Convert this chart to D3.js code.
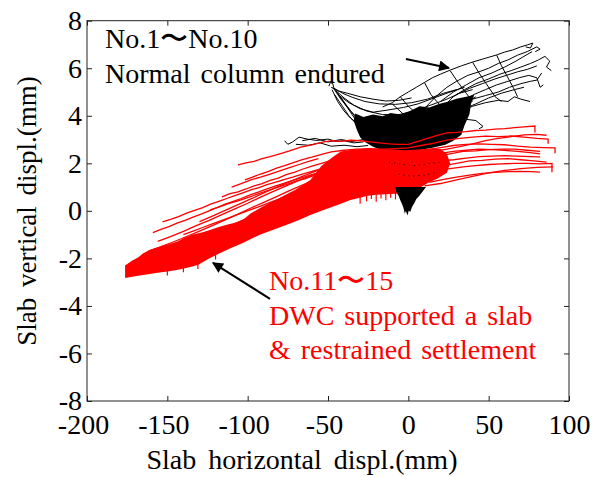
<!DOCTYPE html>
<html>
<head>
<meta charset="utf-8">
<script src="https://cdn.jsdelivr.net/npm/d3@7"></script>
<style>
  body { margin: 0; background: #fff; }
  text { font-family: "Liberation Serif", "Times New Roman", serif; }
</style>
</head>
<body>
<div class="graph"></div>
<script>
// axis ticks
const xTicks = [-200, -150, -100, -50, 0, 50, 100];
const yTicks = [-8, -6, -4, -2, 0, 2, 4, 6, 8];

// No.1~No.10 (normal column) traces
const blackTraces = [
  // left arm and the bowl
  [[-49.5,5.25],[-48.5,5.4],[-47,5.35],[-46.5,5.2],[-45,5.05],[-42,4.75],[-39,4.45],[-36,4.15],[-33,3.85],[-30,3.6],[-26,3.35],[-21,3.1],[-15,2.9],[-8,2.75],[0,2.65]],
  [[-47,5.2],[-42,4.7],[-36,4.2],[-30,3.8],[-22,3.55],[-12,3.45],[0,3.5],[12,3.7],[24,4.05],[34,4.45],[42,4.8]],
  [[-45,5.05],[-40,4.75],[-34,4.45],[-26,4.2],[-16,4.05],[-6,4.05],[4,4.2],[14,4.45],[24,4.7],[32,4.95],[40,5.1]],
  [[-46,5.15],[-41,4.95],[-35,4.78],[-27,4.6],[-18,4.5],[-8,4.48],[2,4.55],[12,4.7],[22,4.95],[30,5.1]],
  [[-44,4.95],[-38,4.4],[-33,3.95],[-28,3.6],[-22,3.3],[-14,3.1],[-4,3.0],[8,3.1],[18,3.35],[28,3.7],[38,4.2]],
  [[-43,4.85],[-37,4.55],[-30,4.3],[-22,4.15],[-12,4.25],[-3,4.35],[6,4.5],[16,4.75],[26,5.0],[35,5.2]],
  [[-47.5,5.1],[-44,4.6],[-40,4.2],[-36,3.9],[-31,3.65],[-25,3.5],[-18,3.4]],
  [[-46,4.9],[-41,4.4],[-37,4.0],[-33,3.7],[-29,3.45]],
  [[-48,5.2],[-44,5.05],[-38,4.95],[-30,4.8],[-22,4.7],[-14,4.62],[-6,4.65],[2,4.75]],
  // trail to the left along y ~ 3
  [[-77,2.95],[-75,2.8],[-72,2.9],[-68,3.1],[-63,3.02],[-57,2.96],[-50,3.02],[-45,2.92],[-40,2.95],[-34,2.86],[-28,2.9]],
  [[-70,2.8],[-62,2.76],[-55,2.86],[-48,2.72],[-40,2.76],[-32,2.7],[-25,2.75]],
  [[-66,2.95],[-58,3.05],[-50,2.9],[-42,3.0],[-35,2.92],[-28,3.0]],
  // fan to the upper right
  [[-16,4.37],[-10,4.55],[-5,4.8],[0,5.0],[5,5.2],[10,5.4],[15,5.6],[20,5.75],[26,5.92],[33,6.1],[40,6.26],[47,6.4],[55,6.56],[60,6.68],[65,6.77],[70,6.9],[74,6.98],[77.5,7.06],[76,6.85],[73,6.9]],
  [[-5,3.4],[3,3.8],[10,4.3],[17,4.8],[24,5.2],[30,5.45],[37,5.7],[44,5.85],[50,6.0],[56,6.2],[62,6.35],[68,6.55],[74,6.7],[80,6.9],[82,6.8],[79,6.7]],
  [[0,3.1],[8,3.5],[15,3.9],[22,4.4],[28,4.8],[35,5.1],[42,5.35],[50,5.55],[57,5.75],[64,5.9],[70,6.05],[76,6.2],[81,6.35],[85,6.5],[88,6.3],[86,6.05],[89,5.9]],
  [[5,3.2],[12,3.6],[20,4.0],[27,4.35],[34,4.65],[41,4.9],[48,5.1],[55,5.3],[62,5.45],[69,5.6],[75,5.7],[80,5.6],[82,5.2],[84,5.3]],
  [[10,3.3],[18,3.6],[25,3.95],[32,4.2],[40,4.4],[48,4.55],[56,4.65],[62,4.6],[66,4.8],[70,4.7],[75.7,4.6]],
  [[15,3.2],[22,3.45],[30,3.7],[36,3.85],[42,3.8],[46.5,3.55],[44,3.45]],
  [[20,4.6],[28,5.0],[36,5.3],[44,5.6],[52,5.8],[60,6.05],[67,6.3],[72,6.5],[77,6.7]],
  [[25,4.1],[33,4.45],[40,4.7],[48,4.85],[56,5.0],[63,5.2],[70,5.35],[76,5.45],[80,5.5],[83,5.8]],
  [[30,4.9],[38,5.15],[46,5.35],[54,5.55],[61,5.7],[68,5.85],[74,5.95],[80,6.1]],
  [[35,4.3],[42,4.5],[50,4.75],[58,4.95],[66,5.1],[72,5.2]],
  // cross strands of the net
  [[-5,4.8],[0,4.4],[5,4.1],[10,3.9]],
  [[10,5.4],[14,4.9],[19,4.5],[24,4.2]],
  [[26,5.9],[31,5.4],[36,4.95],[40,4.6]],
  [[40,6.25],[44,5.8],[49,5.3],[54,4.8],[58,4.6]],
  [[55,6.55],[58,6.1],[62,5.6],[66,5.1],[68,4.8]],
  [[-10,4.5],[-2,4.0],[6,3.7],[14,3.5]]
];
// dense black cycles around the origin and the dip below it
const blackCore = [[-33,4.1],[-28,3.95],[-22,4.05],[-16,3.98],[-11,4.12],[-5,4.05],[1,4.2],[7,4.4],[13,4.35],[19,4.5],[25,4.6],[30,4.72],[36,4.8],[41,4.87],[39,4.5],[38,4.05],[35,3.6],[33,3.2],[28,2.95],[23,2.78],[15,2.65],[7,2.56],[0,2.5],[-5,2.48],[-11,2.5],[-17,2.56],[-22,2.7],[-27,2.9],[-30,3.1],[-32,3.4],[-34,3.8]];
const blackSpike = [[-8,1.0],[-7.5,0.8],[-6,0.62],[-5,0.45],[-4,0.3],[-3,0.12],[-2.2,-0.12],[-1.5,0.0],[-0.6,-0.2],[0.3,0.02],[1.2,-0.05],[2.2,0.15],[3.5,0.3],[5,0.5],[7,0.65],[9,0.82],[11,1.0]];
// black specks left inside the red band
const blackSpecks = [
  [[-12,2.05],[-4,1.95],[4,1.9],[12,1.98],[20,2.05]],
  [[-6,1.55],[2,1.45],[10,1.5],[18,1.62]]
];

// No.11~15 (DWC) traces
const redTraces = [
  [[-106,1.93],[-101,2.02],[-96,2.08],[-91,2.2],[-86,2.28],[-80,2.4],[-74,2.52],[-67,2.68],[-60,2.78],[-54,2.88],[-48,2.95],[-42,2.92],[-36,2.97],[-30,2.95],[-24,2.9],[-18,2.86],[-12,2.82],[-6,2.8],[0,2.8],[6,2.92],[12,3.05],[18,3.18],[24,3.28],[30,3.3],[36,3.33],[42,3.38],[48,3.4],[54,3.44],[60,3.46],[66,3.5],[72,3.53],[78.8,3.57],[78.8,3.3]],
  [[-101.7,1.3],[-97,1.42],[-92,1.55],[-87,1.66],[-82,1.8],[-77,1.9],[-72,2.02],[-66,2.15],[-60,2.26],[-54,2.38],[-48,2.48],[-40,2.55],[-32,2.6],[-24,2.62],[-16,2.6],[-8,2.62],[0,2.65],[8,2.75],[16,2.85],[24,2.98],[32,3.05],[40,3.1],[48,3.14],[56,3.12],[64,3.15],[72,3.1],[80,3.05],[87,3.02],[87,2.82]],
  [[-116,0.59],[-111,0.72],[-106,0.8],[-101,0.92],[-96,1.05],[-91,1.15],[-86,1.28],[-81,1.38],[-76,1.52],[-71,1.62],[-66,1.75],[-60,1.88],[-54,2.0],[-48,2.12],[-42,2.22],[-36,2.3],[-28,2.38],[-20,2.42],[-12,2.45],[-4,2.48],[4,2.5],[12,2.58],[20,2.66],[28,2.75],[36,2.8],[44,2.82],[52,2.8],[60,2.78],[68,2.72],[76,2.68],[84,2.66],[91.3,2.65],[91.3,2.42]],
  [[-159,-0.92],[-154,-0.78],[-149,-0.66],[-144,-0.52],[-139,-0.4],[-134,-0.26],[-129,-0.14],[-124,0.0],[-119,0.14],[-114,0.28],[-109,0.4],[-104,0.52],[-98.5,0.67],[-93,0.8],[-88,0.92],[-83,1.04],[-78,1.15],[-72,1.28],[-66,1.4],[-60,1.52],[-54,1.64],[-48,1.76],[-42,1.86],[-36,1.95],[-28,2.05],[-20,2.12],[-12,2.18],[-4,2.22],[4,2.28],[12,2.35],[20,2.42],[28,2.5],[36,2.55],[44,2.6],[52,2.58],[60,2.55],[68,2.5],[76,2.45],[82,2.4]],
  [[-153,-0.46],[-148,-0.36],[-143,-0.24],[-138,-0.1],[-133,0.02],[-128,0.14],[-123,0.28],[-118,0.4],[-113,0.52],[-108,0.64],[-103,0.76],[-98,0.88],[-93,0.98],[-88,1.1],[-83,1.2],[-78,1.3],[-72,1.42],[-66,1.55],[-60,1.66],[-54,1.78],[-48,1.9],[-40,2.0],[-32,2.1],[-24,2.15],[-16,2.2]],
  [[-123.4,0.04],[-118,0.16],[-112,0.3],[-106,0.42],[-100,0.56],[-94,0.7],[-88,0.84],[-82,0.98],[-76,1.1],[-70,1.25],[-64,1.36],[-58,1.5]],
  [[-140,-1.0],[-134,-0.85],[-128,-0.7],[-122,-0.55],[-116,-0.4],[-110,-0.25],[-104,-0.1],[-98,0.05],[-92,0.2],[-86,0.36],[-80,0.5],[-74,0.66],[-68,0.8]],
  [[-168,-2.1],[-160,-1.92],[-152,-1.75],[-144,-1.55],[-136,-1.35],[-128,-1.12],[-120,-0.9],[-112,-0.66],[-104,-0.42],[-96,-0.18],[-88,0.08],[-80,0.32],[-72,0.55],[-64,0.8],[-56,1.05],[-48,1.28],[-40,1.48],[-32,1.65]],
  [[-162,-1.7],[-154,-1.5],[-146,-1.3],[-138,-1.08],[-130,-0.85],[-122,-0.62],[-114,-0.38],[-106,-0.14],[-98,0.12],[-90,0.36],[-82,0.6],[-74,0.85],[-66,1.08],[-58,1.3],[-50,1.52],[-42,1.7],[-34,1.85]],
  [[-156,-1.28],[-148,-1.08],[-140,-0.86],[-132,-0.62],[-124,-0.4],[-116,-0.16],[-108,0.08],[-100,0.32],[-92,0.58],[-84,0.82],[-76,1.05],[-68,1.28],[-60,1.5],[-52,1.7],[-44,1.88]],
  [[-130,-0.45],[-122,-0.22],[-114,0.02],[-106,0.26],[-98,0.5],[-90,0.75],[-82,1.0],[-74,1.22],[-66,1.45],[-58,1.66],[-50,1.85]],
  [[-110,1.0],[-104,1.15],[-98,1.3],[-92,1.42],[-86,1.55],[-80,1.68],[-74,1.82],[-68,1.95],[-62,2.08],[-56,2.2]],
  [[15,2.5],[24,2.6],[32,2.7],[40,2.82],[48,2.95],[56,3.05],[64,3.12],[72,3.2],[80,3.22],[86,3.18]],
  [[18,2.3],[26,2.4],[34,2.5],[42,2.52],[50,2.58],[58,2.6],[66,2.6],[74,2.55],[82,2.5]],
  [[20,2.1],[28,2.15],[36,2.22],[44,2.28],[52,2.3],[60,2.32],[68,2.3],[76,2.28],[82,2.27]],
  [[22,1.9],[30,2.0],[38,2.1],[46,2.12],[54,2.18],[62,2.2],[70,2.15],[78,2.1],[86,2.05]],
  [[18,1.7],[26,1.78],[34,1.85],[42,1.9],[50,1.95],[58,1.98],[66,2.0],[74,2.0],[82,1.98],[89.4,2.0],[89.4,1.62]],
  [[13,1.2],[22,1.32],[30,1.42],[38,1.5],[46,1.58],[54,1.62],[62,1.65],[70,1.66],[76,1.65],[82,1.63]],
  [[10,1.05],[20,1.15],[30,1.3],[40,1.45],[50,1.6],[60,1.7],[70,1.78],[80,1.83],[90,1.85]]
];
// dense red band from the lower left up to the origin
const redBand = [[-176.3,-2.3],[-172,-2.1],[-168,-1.95],[-165,-1.78],[-160,-1.62],[-155,-1.52],[-150,-1.42],[-144,-1.3],[-139,-1.12],[-134,-1.0],[-128,-0.9],[-123,-0.8],[-118,-0.68],[-113,-0.58],[-108,-0.5],[-103,-0.38],[-98,-0.1],[-90,0.2],[-80,0.55],[-70,0.9],[-61,1.3],[-54,1.9],[-47,2.27],[-42,2.5],[-34,2.58],[-26,2.62],[-18,2.6],[-10,2.58],[-2,2.55],[6,2.58],[14,2.62],[20,2.6],[24,2.4],[26,2.0],[24,1.6],[18,1.35],[13,1.2],[8,1.0],[4,0.85],[-2,0.75],[-8,0.72],[-14,0.7],[-20,0.68],[-26,0.62],[-32,0.52],[-36,0.46],[-42,0.3],[-48,0.15],[-54,0.0],[-61,-0.17],[-68,-0.38],[-76,-0.6],[-84,-0.8],[-92,-1.0],[-98,-1.18],[-103,-1.35],[-110,-1.55],[-117,-1.77],[-124,-2.0],[-131,-2.28],[-137,-2.38],[-144,-2.49],[-150,-2.55],[-156,-2.6],[-160,-2.65],[-165,-2.7],[-170,-2.75],[-176.3,-2.82]];
// little drips hanging under the red band: [x, yTop, yBottom]
const redDrips = [[-30,0.6,0.3],[-26,0.65,0.4],[-23,0.7,0.5],[-20,0.7,0.38],[-17,0.7,0.52],[-14,0.72,0.45],[-11,0.72,0.55],[-8,0.75,0.48],[-150,-2.5,-2.72],[-140,-2.4,-2.58],[-131,-2.25,-2.45],[-120,-1.85,-2.05]];

const blackNote = ["No.1\u301CNo.10", "Normal column endured"];
const redNote = ["No.11\u301C15", "DWC supported a slab", "& restrained settlement"];

const width = 603, height = 477;
const svg = d3.select(".graph").append("svg")
  .attr("width", width)
  .attr("height", height);

const x = d3.scaleLinear().domain([-200, 100]).range([87, 569]);
const y = d3.scaleLinear().domain([-8, 8]).range([401, 20.7]);

const line = d3.line().x(d => x(d[0])).y(d => y(d[1]));
const area = d3.line().x(d => x(d[0])).y(d => y(d[1])).curve(d3.curveLinearClosed);

const plot = svg.append("g");

// black first, red drawn over it
plot.append("path").attr("d", area(blackCore)).attr("fill", "#000");
plot.selectAll(".blk").data(blackTraces).enter().append("path")
  .attr("class", "blk")
  .attr("d", line)
  .attr("fill", "none")
  .attr("stroke", "#000")
  .attr("stroke-width", 1);

plot.append("path").attr("d", area(redBand)).attr("fill", "#f00");
plot.selectAll(".red").data(redTraces).enter().append("path")
  .attr("class", "red")
  .attr("d", line)
  .attr("fill", "none")
  .attr("stroke", "#f00")
  .attr("stroke-width", 1.3);
plot.selectAll(".drip").data(redDrips).enter().append("line")
  .attr("x1", d => x(d[0])).attr("x2", d => x(d[0]))
  .attr("y1", d => y(d[1])).attr("y2", d => y(d[2]))
  .attr("stroke", "#f00")
  .attr("stroke-width", 1.2);

plot.selectAll(".speck").data(blackSpecks).enter().append("path")
  .attr("d", line)
  .attr("fill", "none")
  .attr("stroke", "#000")
  .attr("stroke-width", 1)
  .attr("stroke-dasharray", "1,4");
plot.append("path").attr("d", area(blackSpike)).attr("fill", "#000");

//axes: inward ticks on all four sides, labels on bottom and left
const fs = 28;
svg.append("g")
  .attr("transform", "translate(0," + y(-8) + ")")
  .call(d3.axisBottom(x).tickValues(xTicks).tickFormat(d => String(d)).tickSizeInner(-5).tickSizeOuter(0).tickPadding(13))
  .call(g => g.select(".domain").remove())
  .call(g => g.selectAll(".tick text").attr("dx", d => d < 0 ? -4 : 0));
svg.append("g")
  .attr("transform", "translate(0," + y(8) + ")")
  .call(d3.axisTop(x).tickValues(xTicks).tickSizeInner(-5).tickSizeOuter(0).tickFormat(""))
  .call(g => g.select(".domain").remove());
svg.append("g")
  .attr("transform", "translate(" + x(-200) + ",0)")
  .call(d3.axisLeft(y).tickValues(yTicks).tickFormat(d => String(d)).tickSizeInner(-5).tickSizeOuter(0).tickPadding(5))
  .call(g => g.select(".domain").remove());
svg.append("g")
  .attr("transform", "translate(" + x(100) + ",0)")
  .call(d3.axisRight(y).tickValues(yTicks).tickSizeInner(-5).tickSizeOuter(0).tickFormat(""))
  .call(g => g.select(".domain").remove());

svg.selectAll(".tick text")
  .attr("font-size", fs)
  .attr("fill", "#000");
svg.selectAll(".tick line").attr("stroke", "#222");

svg.append("rect")
  .attr("x", x(-200)).attr("y", y(8))
  .attr("width", x(100) - x(-200)).attr("height", y(-8) - y(8))
  .attr("fill", "none")
  .attr("stroke", "#222")
  .attr("stroke-width", 1);

// axis titles
svg.append("text")
  .attr("x", 302).attr("y", 469)
  .attr("text-anchor", "middle")
  .attr("font-size", 28)
  .attr("word-spacing", 5)
  .text("Slab horizontal displ.(mm)");
svg.append("text")
  .attr("transform", "translate(36," + 211 + ") rotate(-90)")
  .attr("text-anchor", "middle")
  .attr("font-size", 27)
  .attr("word-spacing", 4)
  .text("Slab vertical displ.(mm)");

// notes
svg.selectAll(".bnote").data(blackNote).enter().append("text")
  .attr("x", 105)
  .attr("y", (d, i) => 48 + i * 35)
  .attr("font-size", 28)
  .attr("word-spacing", 3)
  .attr("fill", "#000")
  .text(d => d);
svg.selectAll(".rnote").data(redNote).enter().append("text")
  .attr("x", 269)
  .attr("y", (d, i) => 290 + i * 34.5)
  .attr("font-size", 28)
  .attr("word-spacing", 3)
  .attr("fill", "#f00")
  .text(d => d);

// arrows
const defs = svg.append("defs");
defs.append("marker")
  .attr("id", "head")
  .attr("viewBox", "0 0 10 10")
  .attr("refX", 9).attr("refY", 5)
  .attr("markerWidth", 7).attr("markerHeight", 5.5)
  .attr("markerUnits", "strokeWidth")
  .attr("orient", "auto")
  .append("path").attr("d", "M0,0 L10,5 L0,10 z").attr("fill", "#000");

const arrows = [[[-1.5, 6.39], [25.3, 6.01]], [[-86.1, -3.7], [-121.6, -2.19]]];
svg.selectAll(".arrow").data(arrows).enter().append("line")
  .attr("x1", d => x(d[0][0])).attr("y1", d => y(d[0][1]))
  .attr("x2", d => x(d[1][0])).attr("y2", d => y(d[1][1]))
  .attr("stroke", "#000")
  .attr("stroke-width", 2)
  .attr("marker-end", "url(#head)");
</script>
</body>
</html>
